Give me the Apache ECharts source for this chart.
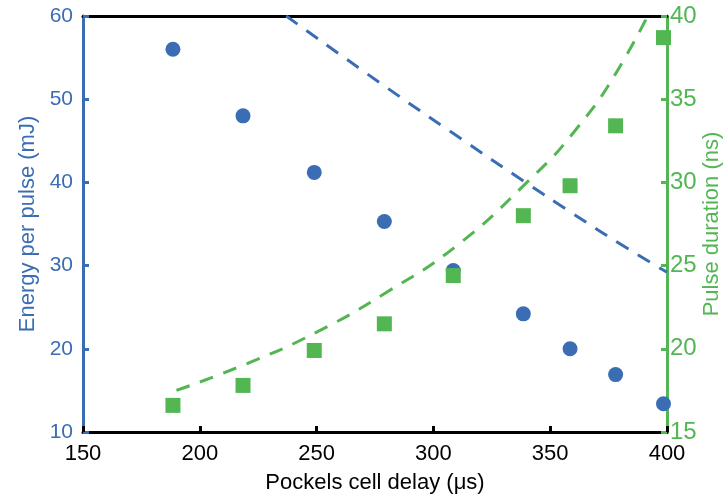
<!DOCTYPE html>
<html>
<head>
<meta charset="utf-8">
<script src="https://cdn.jsdelivr.net/npm/echarts@6/dist/echarts.min.js"></script>
<style>
  html, body { margin: 0; padding: 0; background: #fff; }
  #chart_container { width: 727px; height: 500px; }
</style>
</head>
<body>
<div id="chart_container"></div>
<script>
"use strict";

const delay = [188.5, 218.5, 249, 279, 308.5, 338.5, 358.5, 378, 398.5];
const energy = [56.0, 48.0, 41.2, 35.3, 29.4, 24.2, 20.0, 16.9, 13.4];
const duration = [16.6, 17.8, 19.9, 21.5, 24.4, 28.0, 29.8, 33.4, 38.7];

// dashed trend curves (blue on left axis, green on right axis)
const energyFitX = [237, 280, 310, 340, 360, 380, 400];
const energyFitY = [60.0, 51.4, 45.6, 39.9, 36.2, 32.6, 29.2];
const durationFitX = [190, 220, 250, 280, 310, 340, 360, 380, 400];
const durationFitY = [17.5, 19.1, 21.0, 23.4, 26.2, 30.0, 33.0, 37.0, 42.4];

const blue = '#3a6db4';
const green = '#52b653';
const font = 'Liberation Sans, Arial, sans-serif';

const zip = (xs, ys) => xs.map((x, i) => [x, ys[i]]);

let chartDom = document.getElementById('chart_container');
let myChart = echarts.init(chartDom);

let optEchart = {
    animation: false,
    grid: { left: 83, right: 60, top: 16, bottom: 68, outerBoundsMode: 'none' },
    xAxis: [{
        type: 'value', min: 150, max: 400, interval: 50,
        name: 'Pockels cell delay (\u03bcs)', nameLocation: 'middle', nameGap: 40,
        nameTextStyle: { color: '#000', fontSize: 22, fontFamily: font },
        axisLine: { lineStyle: { color: '#000', width: 3 } },
        axisTick: { inside: true, length: 6, lineStyle: { color: '#000', width: 3 } },
        axisLabel: { color: '#000', fontSize: 22, fontFamily: font, margin: 11 },
        splitLine: { show: false }
    }, {
        type: 'value', min: 150, max: 400, position: 'top',
        axisLine: { show: true, onZero: false, lineStyle: { color: '#000', width: 3 } },
        axisTick: { show: false }, axisLabel: { show: false }, splitLine: { show: false }
    }],
    yAxis: [{
        type: 'value', min: 10, max: 60, interval: 10, position: 'left',
        name: 'Energy per pulse (mJ)', nameLocation: 'middle', nameGap: 44,
        nameTextStyle: { color: blue, fontSize: 22, fontFamily: font },
        axisLine: { show: true, lineStyle: { color: blue, width: 3 } },
        axisTick: { show: true, inside: true, length: 6, lineStyle: { color: blue, width: 3 } },
        axisLabel: { color: blue, fontSize: 21, fontFamily: font, margin: 10 },
        splitLine: { show: false }
    }, {
        type: 'value', min: 15, max: 40, interval: 5, position: 'right',
        name: 'Pulse duration (ns)', nameLocation: 'middle', nameGap: 34,
        nameMoveOverlap: false,
        nameTextStyle: { color: green, fontSize: 22, fontFamily: font },
        axisLine: { show: true, lineStyle: { color: green, width: 3 } },
        axisTick: { show: true, inside: true, length: 6, lineStyle: { color: green, width: 3 } },
        axisLabel: { color: green, fontSize: 24, fontFamily: font, margin: 3 },
        splitLine: { show: false }
    }],
    series: [{
        type: 'line', yAxisIndex: 0, data: zip(energyFitX, energyFitY),
        smooth: true, symbol: 'none', clip: true,
        lineStyle: { color: blue, width: 3, type: [14, 11] }
    }, {
        type: 'line', yAxisIndex: 1, data: zip(durationFitX, durationFitY),
        smooth: true, symbol: 'none', clip: true,
        lineStyle: { color: green, width: 3, type: [14, 11] }
    }, {
        type: 'scatter', yAxisIndex: 0, data: zip(delay, energy),
        symbol: 'circle', symbolSize: 15, clip: false,
        itemStyle: { color: blue, opacity: 1 }
    }, {
        type: 'scatter', yAxisIndex: 1, data: zip(delay, duration),
        symbol: 'rect', symbolSize: 15, clip: false,
        itemStyle: { color: green, opacity: 1 }
    }]
};

optEchart && myChart.setOption(optEchart);
</script>
</body>
</html>
